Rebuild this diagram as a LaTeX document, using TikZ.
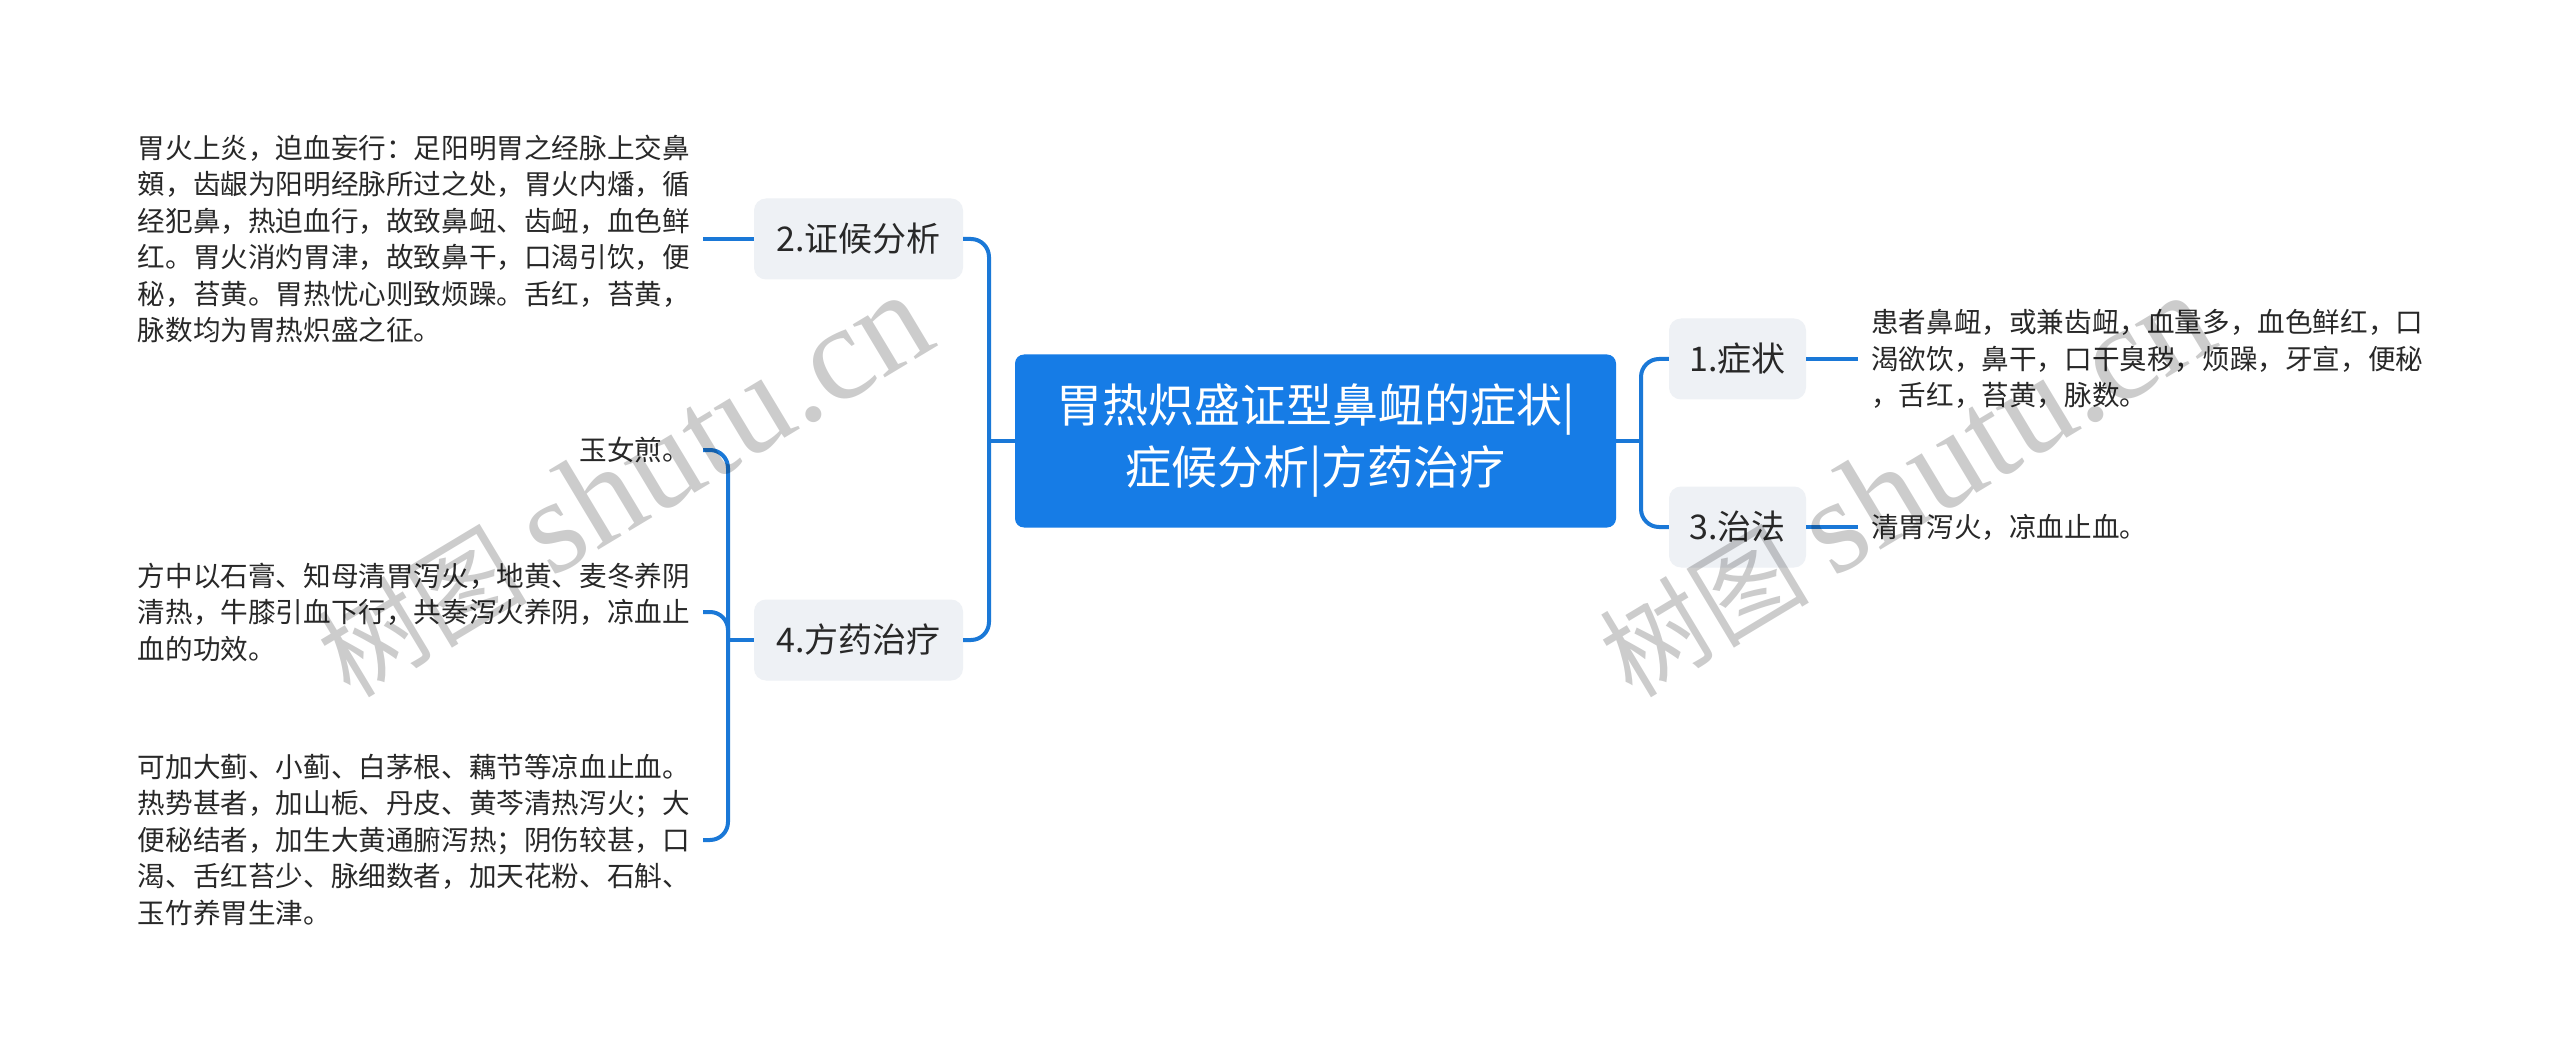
\documentclass[tikz,border=0pt]{standalone}
\usepackage{fontspec}
\setmainfont{Noto Sans CJK SC}
\newfontfamily\wmcjk{Noto Sans CJK SC}
\newfontfamily\wmlat{Liberation Serif}
\definecolor{rootblue}{RGB}{22,124,230}
\definecolor{linkblue}{RGB}{26,120,215}
\definecolor{branchgray}{RGB}{238,241,245}
\definecolor{darktext}{RGB}{40,40,40}
\begin{document}
\begin{tikzpicture}[x=1pt,y=-1pt,
  rootbox/.style={fill=rootblue, rounded corners=9pt, text=white, align=center,
    minimum width=601pt, minimum height=173pt, inner sep=0pt,
    font=\fontsize{46pt}{62pt}\selectfont},
  branchbox/.style={fill=branchgray, rounded corners=12pt, text=darktext,
    minimum height=81pt, inner sep=0pt, font=\fontsize{34pt}{40pt}\selectfont},
  leaftext/.style={align=left, text=darktext, inner xsep=13pt, inner ysep=0pt,
    font=\fontsize{27.6pt}{36.5pt}\selectfont},
  link/.style={draw=linkblue, line width=4pt, rounded corners=18pt},
  wm/.style={text=black, text opacity=0.2, rotate=31, anchor=base west, inner sep=0pt}
]
\useasboundingbox (0,0) rectangle (2560,1064);
\fill[white] (0,0) rectangle (2560,1064);

% root and branches
\node[rootbox] (C) at (1315.5,441) {胃热炽盛证型鼻衄的症状|\\症候分析|方药治疗};
\node[branchbox, minimum width=209pt] (B2) at (858.5,239) {2.证候分析};
\node[branchbox, minimum width=209pt] (B4) at (858.5,640) {4.方药治疗};
\node[branchbox, minimum width=137pt] (B1) at (1737.5,359) {1.症状};
\node[branchbox, minimum width=137pt] (B3) at (1737.5,527) {3.治法};

% leaves
\node[leaftext, anchor=east] (L2) at (703,239) {胃火上炎，迫血妄行：足阳明胃之经脉上交鼻\\頞，齿龈为阳明经脉所过之处，胃火内燔，循\\经犯鼻，热迫血行，故致鼻衄、齿衄，血色鲜\\红。胃火消灼胃津，故致鼻干，口渴引饮，便\\秘，苔黄。胃热忧心则致烦躁。舌红，苔黄，\\脉数均为胃热炽盛之征。};
\node[leaftext, anchor=east] (L4a) at (703,450) {玉女煎。};
\node[leaftext, anchor=east] (L4b) at (703,612) {方中以石膏、知母清胃泻火，地黄、麦冬养阴\\清热，牛膝引血下行，共奏泻火养阴，凉血止\\血的功效。};
\node[leaftext, anchor=east] (L4c) at (703,840) {可加大蓟、小蓟、白茅根、藕节等凉血止血。\\热势甚者，加山栀、丹皮、黄芩清热泻火；大\\便秘结者，加生大黄通腑泻热；阴伤较甚，口\\渴、舌红苔少、脉细数者，加天花粉、石斛、\\玉竹养胃生津。};
\node[leaftext, anchor=west] (R1) at (1858,359) {患者鼻衄，或兼齿衄，血量多，血色鲜红，口\\渴欲饮，鼻干，口干臭秽，烦躁，牙宣，便秘\\，舌红，苔黄，脉数。};
\node[leaftext, anchor=west] (R3) at (1858,527) {清胃泻火，凉血止血。};

% junctions
\coordinate (lj) at (989,441);
\coordinate (rj) at (1641,441);
\coordinate (bj) at (728,640);

% connectors
\draw[link] (B2.east) -| (lj) |- (B4.east);
\draw[link] (C.west) -- (lj);
\draw[link] (B1.west) -| (rj) |- (B3.west);
\draw[link] (C.east) -- (rj);
\draw[link] (L2.east) -- (B2.west);
\draw[link] (L4a.east) -| (bj) |- (L4c.east);
\draw[link] (L4b.east) -| (bj);
\draw[link] (bj) -- (B4.west);
\draw[link] (B1.east) -- (R1.west);
\draw[link] (B3.east) -- (R3.west);

% watermarks
\node[wm] (W1) at (350,700) {{\wmcjk\fontsize{105pt}{105pt}\selectfont 树图}\hspace{25pt}{\wmlat\fontsize{135pt}{135pt}\selectfont shutu.cn}};
\node[wm] (W2) at (1632,700) {{\wmcjk\fontsize{105pt}{105pt}\selectfont 树图}\hspace{25pt}{\wmlat\fontsize{135pt}{135pt}\selectfont shutu.cn}};
\end{tikzpicture}
\end{document}
